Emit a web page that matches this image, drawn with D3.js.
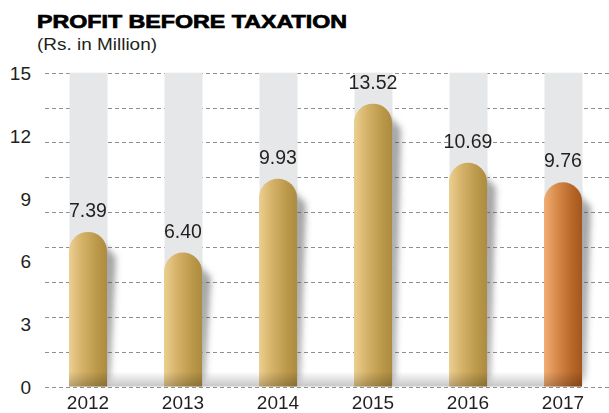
<!DOCTYPE html>
<html>
<head>
<meta charset="utf-8">
<script src="https://cdn.jsdelivr.net/npm/d3@7"></script>
<style>
  html, body { margin: 0; padding: 0; background: #ffffff; }
  svg { display: block; }
</style>
</head>
<body>
<svg id="chart" width="609" height="413"></svg>
<script>
// Profit before taxation, Rs. in Million
const years = ["2012", "2013", "2014", "2015", "2016", "2017"];
const profit = [7.39, 6.40, 9.93, 13.52, 10.69, 9.76];
const valueLabels = ["7.39", "6.40", "9.93", "13.52", "10.69", "9.76"];
const tickValues = [0, 3, 6, 9, 12, 15];
const gridCount = 9;   // dashed guide lines split the full range into 9 bands

const svg = d3.select("#chart");
const font = "'Liberation Sans', Arial, Helvetica, sans-serif";
const ink = "#231f20";

const y = d3.scaleLinear().domain([0, 15]).range([386.5, 72.7]);
const x = d3.scaleBand().domain(years).range([40.5, 610.5])
  .paddingInner(0.6).paddingOuter(0.3);
const bw = x.bandwidth();
const r = bw / 2;

const defs = svg.append("defs");

function barGradient(id, stops) {
  const g = defs.append("linearGradient").attr("id", id)
    .attr("x1", "0%").attr("x2", "100%").attr("y1", "0%").attr("y2", "0%");
  stops.forEach(([o, c]) => g.append("stop").attr("offset", o).attr("stop-color", c));
}
barGradient("gold", [["0%", "#eccf90"], ["35%", "#d4b168"], ["75%", "#b99849"], ["100%", "#ad8b40"]]);
barGradient("copper", [["0%", "#f1ad73"], ["35%", "#d7894a"], ["75%", "#b56628"], ["100%", "#a5561d"]]);

const floor = defs.append("linearGradient").attr("id", "floor")
  .attr("x1", "0%").attr("x2", "0%").attr("y1", "0%").attr("y2", "100%");
floor.append("stop").attr("offset", "0%").attr("stop-color", "#000").attr("stop-opacity", 0);
floor.append("stop").attr("offset", "100%").attr("stop-color", "#000").attr("stop-opacity", 0.22);

defs.append("filter").attr("id", "soft").attr("x", "-50%").attr("y", "-20%")
  .attr("width", "200%").attr("height", "140%")
  .append("feGaussianBlur").attr("stdDeviation", 3);

// Title block
svg.append("text").attr("x", 37).attr("y", 28)
  .attr("font-family", font).attr("font-weight", 700).attr("font-size", 18.5)
  .attr("fill", "#000").attr("stroke", "#000").attr("stroke-width", 0.7)
  .attr("textLength", 310).attr("lengthAdjust", "spacingAndGlyphs")
  .text("PROFIT BEFORE TAXATION");
svg.append("text").attr("x", 37).attr("y", 50)
  .attr("font-family", font).attr("font-size", 16.5)
  .attr("fill", ink).attr("textLength", 120).attr("lengthAdjust", "spacingAndGlyphs")
  .text("(Rs. in Million)");

// Dashed guide lines
const gridVals = d3.range(gridCount + 1).map(i => i * 15 / gridCount);
svg.append("g").selectAll("line").data(gridVals).join("line")
  .attr("x1", 45).attr("x2", 609)
  .attr("y1", d => Math.round(y(d)) + 0.5).attr("y2", d => Math.round(y(d)) + 0.5)
  .attr("stroke", "#8f8f8f").attr("stroke-width", 1).attr("stroke-dasharray", "4,3");

// Y tick labels
const yAxis = d3.axisLeft(y).tickValues(tickValues).tickSize(0).tickPadding(0).tickFormat(d3.format("d"));
const ay = svg.append("g").attr("transform", "translate(31,0)").call(yAxis);
ay.select(".domain").remove();
ay.selectAll("text").attr("font-family", font).attr("font-size", 19).attr("fill", ink).attr("dy", "0.36em");

// Grey track behind each bar
svg.append("g").selectAll("rect").data(years).join("rect")
  .attr("x", d => x(d) + 0.5).attr("y", y(15)).attr("width", bw).attr("height", y(0) - y(15))
  .attr("fill", "#e6e7e8");

const rows = years.map((yr, i) => ({ yr, v: profit[i], label: valueLabels[i], last: i === years.length - 1 }));

// Soft shadow falling to the right of each bar
svg.append("g").attr("filter", "url(#soft)").selectAll("path").data(rows).join("path")
  .attr("d", d => {
    const x0 = x(d.yr) + bw, top = y(d.v), bot = y(0);
    return `M${x0 - 4},${top + r * 0.6} L${x0 + 9},${top + r + 6} L${x0 + 3},${bot - 12} L${x0 - 2},${bot} Z`;
  })
  .attr("fill", "#4a4a4a").attr("opacity", 0.5);

// Bars with rounded caps
function capsule(x0, top, bot) {
  return `M${x0},${bot} L${x0},${top + r} A${r},${r} 0 0 1 ${x0 + bw},${top + r} L${x0 + bw},${bot} Z`;
}
svg.append("g").selectAll("path").data(rows).join("path")
  .attr("d", d => capsule(x(d.yr), y(d.v), y(0)))
  .attr("fill", d => d.last ? "url(#copper)" : "url(#gold)");

// Floor shading along the base
svg.append("rect").attr("x", x(years[0])).attr("y", y(0) - 15)
  .attr("width", x(years[years.length - 1]) + bw - x(years[0])).attr("height", 15)
  .attr("fill", "url(#floor)");

// Value labels
svg.append("g").selectAll("text").data(rows).join("text")
  .attr("x", d => x(d.yr) + bw / 2).attr("y", d => y(d.v) - 15)
  .attr("text-anchor", "middle").attr("font-family", font).attr("font-size", 19.5)
  .attr("fill", ink).text(d => d.label);

// Year labels
const xAxis = d3.axisBottom(x).tickSize(0).tickPadding(0);
const ax = svg.append("g").attr("transform", "translate(0,409)").call(xAxis);
ax.select(".domain").remove();
ax.selectAll("text").attr("font-family", font).attr("font-size", 19).attr("fill", ink).attr("dy", 0);
</script>
</body>
</html>
